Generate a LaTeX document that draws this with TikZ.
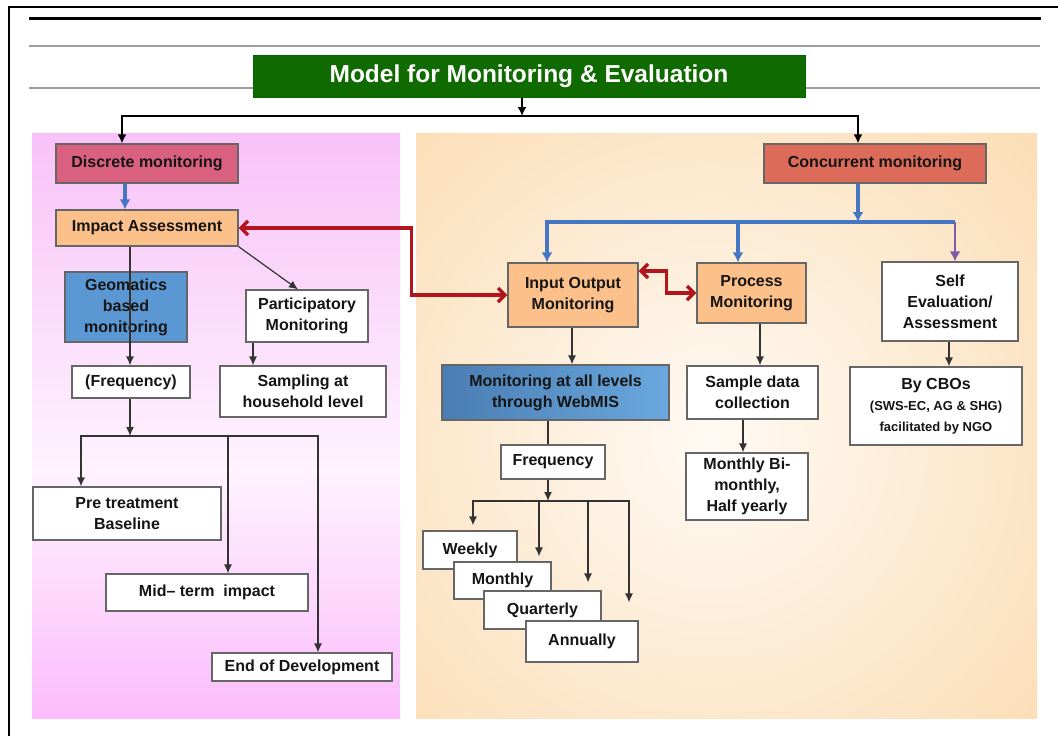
\documentclass[tikz,border=0pt]{standalone}
\usepackage{fontspec}
\setmainfont{Liberation Sans}
\usetikzlibrary{arrows.meta,shadows,calc}
\definecolor{titlegreen}{HTML}{0F6B00}
\definecolor{discretec}{HTML}{D9607E}
\definecolor{orangec}{HTML}{FCC08A}
\definecolor{concurrentc}{HTML}{DC6B5A}
\definecolor{geoblue}{HTML}{5B97D3}
\definecolor{boxgray}{HTML}{666666}
\definecolor{txt}{HTML}{151515}
\definecolor{pinktop}{HTML}{F8C2F8}
\definecolor{pinkmid}{HTML}{FEF3FE}
\definecolor{pinkbot}{HTML}{FBBCFB}
\definecolor{peach}{HTML}{FBDCB2}
\definecolor{peachlight}{HTML}{FFFAF4}
\definecolor{blueline}{HTML}{4576C3}
\definecolor{purpline}{HTML}{7F5AA6}
\definecolor{redline}{HTML}{B3151D}
\definecolor{webleft}{HTML}{4A7DB2}
\definecolor{webright}{HTML}{6AA8DD}
\begin{document}
\begin{tikzpicture}[x=1pt,y=-1pt,
  box/.style={draw=boxgray, line width=1.2pt, text=txt, align=center, inner sep=0pt,
    font=\fontsize{16}{21}\selectfont\bfseries,
    drop shadow={shadow xshift=1.2pt,shadow yshift=-1.2pt,opacity=0.25,fill=black}},
  wbox/.style={box, fill=white},
  obox/.style={box, fill=orangec},
  titlebox/.style={draw=green!40!black, line width=1pt, fill=titlegreen, text=white,
    font=\fontsize{24.5}{27}\selectfont\bfseries, inner sep=0pt},
  blk/.style={line width=2.8pt, black},
  thinc/.style={line width=1.2pt, draw=black!80},
  tip/.style={-{Latex[length=9pt,width=8pt]}},
  bigtip/.style={-{Latex[length=9pt,width=9pt]}},
  bluc/.style={line width=3.4pt, draw=blueline},
  bltip/.style={-{Latex[length=10pt,width=11pt]}},
  redc/.style={line width=3.4pt, draw=redline, {Straight Barb[length=7pt,width=14pt]}-{Straight Barb[length=7pt,width=14pt]}}
]
\path[use as bounding box] (0,0) rectangle (1058,736);
% frame and rules
\draw[line width=2pt] (9,736) -- (9,7) -- (1058,7);
\draw[line width=2.5pt, black] (29,18.5) -- (1041,18.5);
\draw[line width=2.2pt, black!38] (29,46) -- (1040,46);
\draw[line width=2.2pt, black!38] (29,88) -- (1040,88);
% panels
\shade[top color=pinktop, bottom color=pinkmid] (32,133) rectangle (400,470);
\shade[top color=pinkmid, bottom color=pinkbot] (32,469.5) rectangle (400,718);
\fill[peach] (416,133) rectangle (1037,718);
\begin{scope}
  \clip (416,133) rectangle (1037,718);
  \shade[inner color=peachlight, outer color=peach] (710,440) circle (470);
\end{scope}
% title
\node[titlebox, minimum width=552pt, minimum height=42pt] (title) at (529,76) {Model for Monitoring \& Evaluation};
% left side
\node[box, fill=discretec, minimum width=182pt, minimum height=39pt] (discrete) at (147,163.5) {Discrete monitoring};
\node[obox, minimum width=182pt, minimum height=36pt] (impact) at (147,228) {Impact Assessment};
\node[box, fill=geoblue, minimum width=122pt, minimum height=70pt] (geo) at (126,307) {Geomatics\\based\\monitoring};
\node[wbox, minimum width=118pt, minimum height=32pt] (freqa) at (131,382) {(Frequency)};
\node[wbox, minimum width=122pt, minimum height=52pt] (partic) at (307,316) {Participatory\\Monitoring};
\node[wbox, minimum width=166pt, minimum height=51pt] (sampling) at (303,391.5) {Sampling at\\household level};
\node[wbox, minimum width=188pt, minimum height=53pt] (pre) at (127,513.5) {Pre treatment\\Baseline};
\node[wbox, minimum width=202pt, minimum height=37pt] (mid) at (207,592.5) {Mid– term\ \ impact};
\node[wbox, minimum width=180pt, minimum height=28pt] (enddev) at (302,667) {End of Development};
% right side
\node[box, fill=concurrentc, minimum width=222pt, minimum height=39pt] (concurrent) at (875,163.5) {Concurrent monitoring};
\node[obox, minimum width=130pt, minimum height=64pt] (io) at (573,295) {Input Output\\Monitoring};
\node[obox, minimum width=109pt, minimum height=60pt] (process) at (751.5,293) {Process\\Monitoring};
\node[wbox, minimum width=136pt, minimum height=79pt] (self) at (950,301.5) {Self\\Evaluation/\\Assessment};
\node[wbox, minimum width=172pt, minimum height=78pt] (cbo) at (936,406) {By CBOs\\\fontsize{13}{17}\selectfont (SWS-EC, AG \& SHG)\\\fontsize{13}{17}\selectfont facilitated by NGO};
\node[box, left color=webleft, right color=webright, minimum width=227pt, minimum height=55pt] (web) at (555.5,392.5) {Monitoring at all levels\\through WebMIS};
\node[wbox, minimum width=131pt, minimum height=53pt] (sample) at (752.5,392.5) {Sample data\\collection};
\node[wbox, minimum width=104pt, minimum height=34pt] (freqb) at (553,462) {Frequency};
\node[wbox, minimum width=122pt, minimum height=67pt] (mbi) at (747,486.5) {Monthly Bi-\\monthly,\\Half yearly};
\node[wbox, minimum width=94pt, minimum height=38pt] (weekly) at (470,550) {Weekly};
\node[wbox, minimum width=97pt, minimum height=37pt] (monthly) at (502.5,580.5) {Monthly};
\node[wbox, minimum width=117pt, minimum height=38pt] (quarterly) at (542.5,610) {Quarterly};
\node[wbox, minimum width=112pt, minimum height=41pt] (annually) at (582,641.5) {Annually};
% title connectors
\coordinate (jt) at (522,116);
\draw[blk, bigtip] (title.south -| jt) -- (jt);
\draw[blk, bigtip] (jt) -| ([xshift=-25pt]discrete.north);
\draw[blk, bigtip] (jt) -| ([xshift=-17pt]concurrent.north);
% left connectors
\draw[bluc, bltip] ([xshift=-22pt]discrete.south) -- ([xshift=-22pt]impact.north);
\draw[thinc, tip] ([xshift=-17pt]impact.south) -- ([xshift=-1pt]freqa.north);
\draw[thinc, tip] (impact.south east) -- ([xshift=-9pt]partic.north);
\coordinate (pa) at ([xshift=-54pt]partic.south);
\draw[thinc, tip] (pa) -- (pa |- sampling.north);
\coordinate (jl) at (130,436);
\draw[thinc, tip] ([xshift=-1pt]freqa.south) -- (jl);
\draw[thinc, tip] (jl) -| ([xshift=-46pt]pre.north);
\draw[thinc, tip] (jl) -| ([xshift=21pt]mid.north);
\draw[thinc, tip] (jl) -| ([xshift=16pt]enddev.north);
% red links
\draw[redc] (impact.east) -- ++(173,0) |- (io.west);
\draw[redc] ([yshift=24pt]io.east) -- ++(28,0) |- (process.west);
% blue distribution
\coordinate (jc) at (858,222);
\draw[bluc, bltip] ([xshift=-17pt]concurrent.south) -- (jc);
\draw[bluc, bltip] (jc) -| ([xshift=-26pt]io.north);
\draw[bluc, bltip] (jc) -| ([xshift=-13.5pt]process.north);
\draw[bluc] (jc) -- (955,222);
\draw[line width=2.8pt, draw=purpline, bltip] (955,222) -- ([xshift=5pt]self.north);
% right connectors
\draw[thinc, tip] ([xshift=-1pt]self.south) -- ([xshift=13pt]cbo.north);
\draw[thinc, tip] ([xshift=-1pt]io.south) -- ([xshift=16.5pt]web.north);
\draw[thinc] ([xshift=-7.5pt]web.south) -- ([xshift=-5pt]freqb.north);
\coordinate (jf) at (548,501);
\draw[thinc, tip] ([xshift=-5pt]freqb.south) -- (jf);
\draw[thinc, tip] (jf) -| ([xshift=3pt,yshift=5pt]weekly.north);
\draw[thinc, tip] (jf) -| ([xshift=36.5pt,yshift=5pt]monthly.north);
\draw[thinc, tip] (jf) -| ([xshift=45.5pt,yshift=8pt]quarterly.north);
\draw[thinc, tip] (jf) -| ([xshift=47pt,yshift=18pt]annually.north);
\draw[thinc, tip] ([xshift=8.5pt]process.south) -- ([xshift=7.5pt]sample.north);
\draw[thinc, tip] ([xshift=-9.5pt]sample.south) -- ([xshift=-4pt]mbi.north);
\end{tikzpicture}
\end{document}
